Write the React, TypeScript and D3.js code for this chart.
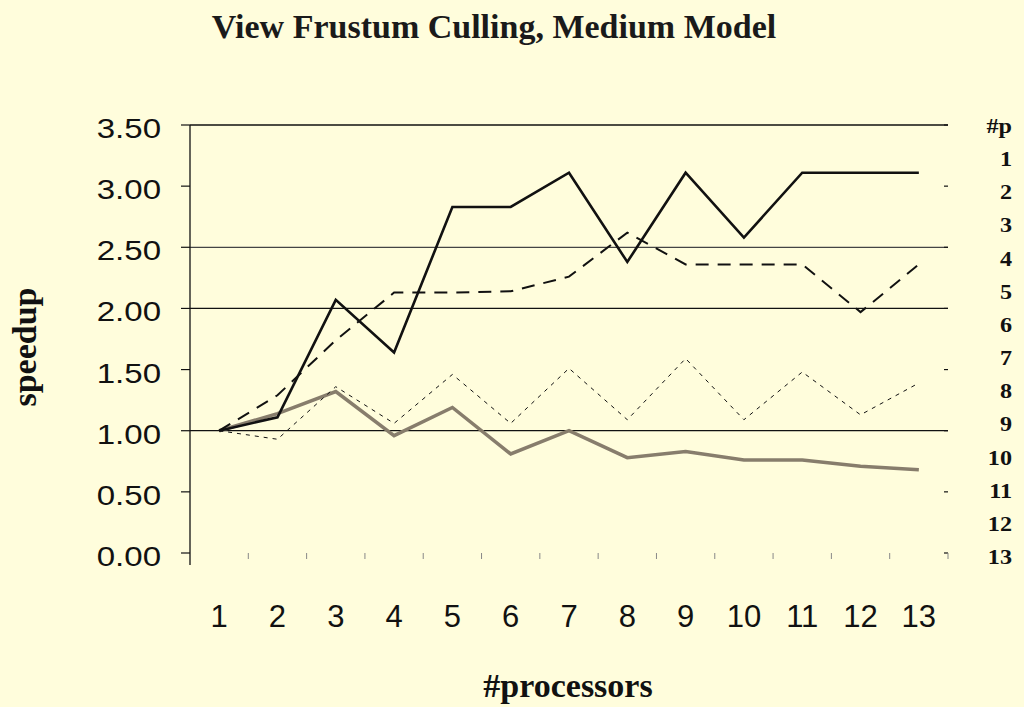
import React from "react";
import * as d3 from "d3";

const categories = ["1", "2", "3", "4", "5", "6", "7", "8", "9", "10", "11", "12", "13"];
const seriesSolid = [1.0, 1.11, 2.07, 1.64, 2.83, 2.83, 3.11, 2.38, 3.11, 2.58, 3.11, 3.11, 3.11];
const seriesDashed = [1.0, 1.29, 1.74, 2.13, 2.13, 2.14, 2.26, 2.62, 2.36, 2.36, 2.36, 1.97, 2.36];
const seriesThin = [1.0, 0.93, 1.36, 1.06, 1.46, 1.06, 1.51, 1.09, 1.59, 1.09, 1.48, 1.13, 1.39];
const seriesGray = [1.0, 1.14, 1.32, 0.96, 1.19, 0.81, 1.0, 0.78, 0.83, 0.76, 0.76, 0.71, 0.68];
const yTicks = [0, 0.5, 1.0, 1.5, 2.0, 2.5, 3.0, 3.5];
const fullGrid = [1.0, 2.0, 2.5, 3.5];
const legendLabels = ["#p", "1", "2", "3", "4", "5", "6", "7", "8", "9", "10", "11", "12", "13"];

const W = 1024;
const H = 707;
const left = 190;
const right = 948;
const top = 125;
const bottom = 553;
const serif = "Liberation Serif, Times New Roman, serif";
const sans = "Liberation Sans, Arial, sans-serif";

export default function App() {
  const x = d3.scaleBand<string>().domain(categories).range([left, right]);
  const cx = (c: string) => (x(c) as number) + x.bandwidth() / 2;
  const y = d3.scaleLinear().domain([0, 3.5]).range([bottom, top]);
  const line = d3
    .line<number>()
    .x((_, i) => cx(categories[i]))
    .y((d) => y(d));

  const series = [
    { data: seriesGray, stroke: "#877d6c", width: 3.5, dash: undefined },
    { data: seriesThin, stroke: "#111", width: 1, dash: "4,5" },
    { data: seriesDashed, stroke: "#111", width: 2, dash: "13,9" },
    { data: seriesSolid, stroke: "#111", width: 2.6, dash: undefined },
  ];

  const legendY = d3.scalePoint<string>().domain(legendLabels).range([126, 557]);

  return (
    <svg
      width={W}
      height={H}
      style={{ position: "absolute", left: 0, top: 0, background: "#fffddc" }}
    >
      <rect x={0} y={0} width={W} height={H} fill="#fffddc" />
      <text
        x={494}
        y={38}
        textAnchor="middle"
        fontFamily={serif}
        fontWeight="bold"
        fontSize={34}
        fill="#1a1a1a"
      >
        View Frustum Culling, Medium Model
      </text>

      {/* grid lines */}
      {fullGrid.map((v) => (
        <line
          key={"g" + v}
          x1={left}
          x2={right}
          y1={y(v)}
          y2={y(v)}
          stroke={v === 2.5 ? "#444" : "#111"}
          strokeWidth={1.3}
        />
      ))}
      {/* y axis */}
      <line x1={left} x2={left} y1={top} y2={bottom + 12} stroke="#111" strokeWidth={1.3} />
      {yTicks.map((v) => (
        <g key={"t" + v}>
          <line x1={left - 9} x2={left} y1={y(v)} y2={y(v)} stroke="#111" strokeWidth={1.2} />
          <line x1={right - 4} x2={right} y1={y(v)} y2={y(v)} stroke="#111" strokeWidth={1.2} />
          <text
            transform={`translate(161, ${y(v) + 13}) scale(1.18, 1)`}
            textAnchor="end"
            fontFamily={sans}
            fontSize={28}
            fill="#111"
          >
            {v.toFixed(2)}
          </text>
        </g>
      ))}
      {/* bottom small ticks */}
      {categories.map((c) => (
        <line
          key={"bt" + c}
          x1={(x(c) as number) + x.bandwidth()}
          x2={(x(c) as number) + x.bandwidth()}
          y1={bottom}
          y2={bottom + 6}
          stroke="#888"
          strokeWidth={1}
        />
      ))}

      {series.map((s, i) => (
        <path
          key={"s" + i}
          d={line(s.data) || ""}
          fill="none"
          stroke={s.stroke}
          strokeWidth={s.width}
          strokeDasharray={s.dash}
          strokeLinejoin="miter"
        />
      ))}

      {/* x labels */}
      {categories.map((c) => (
        <text
          key={"xl" + c}
          x={cx(c)}
          y={627}
          textAnchor="middle"
          fontFamily={sans}
          fontSize={31}
          fill="#111"
        >
          {c}
        </text>
      ))}

      {/* right legend column */}
      {legendLabels.map((l) => (
        <text
          key={"lg" + l}
          transform={`translate(1012, ${(legendY(l) as number) + 7}) scale(1.15, 1)`}
          textAnchor="end"
          fontFamily={serif}
          fontWeight="bold"
          fontSize={21}
          fill="#111"
        >
          {l}
        </text>
      ))}

      <text
        transform={`translate(36, 347) rotate(-90)`}
        textAnchor="middle"
        fontFamily={serif}
        fontWeight="bold"
        fontSize={34}
        fill="#111"
      >
        speedup
      </text>
      <text
        x={568}
        y={697}
        textAnchor="middle"
        fontFamily={serif}
        fontWeight="bold"
        fontSize={34}
        fill="#111"
      >
        #processors
      </text>
    </svg>
  );
}
